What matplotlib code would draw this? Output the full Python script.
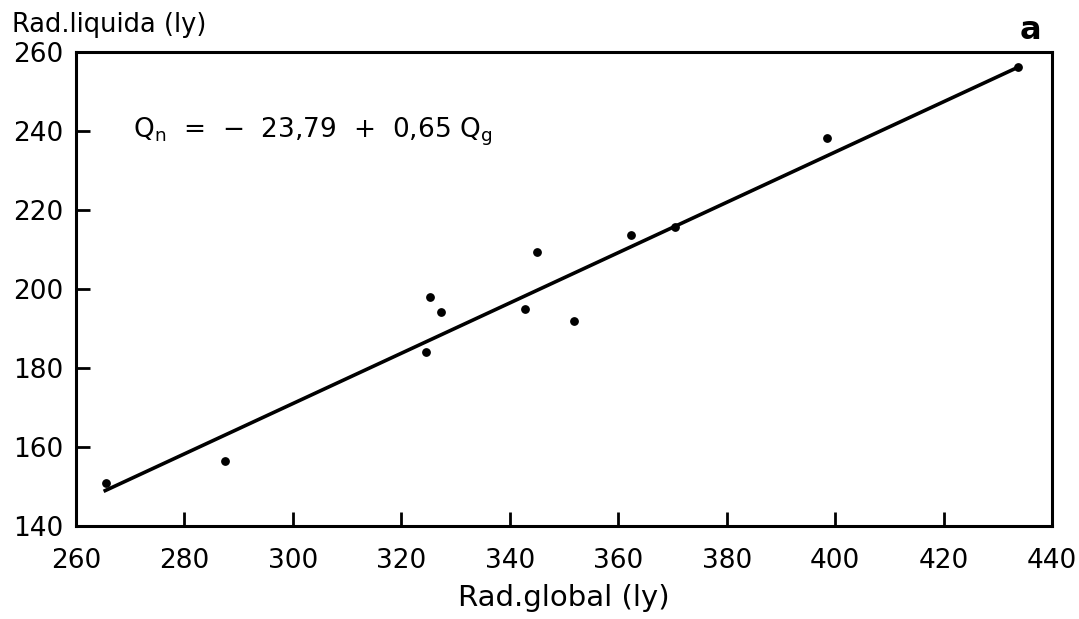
import matplotlib
matplotlib.use('Agg')
import matplotlib.pyplot as plt

plt.rcParams['font.family'] = ['DejaVu Sans']
plt.rcParams['mathtext.default'] = 'regular'

# observed points: global radiation vs net radiation (ly)
rad_global = [265.5, 287.5, 324.6, 325.2, 327.4, 342.8, 345.0, 351.8, 362.3, 370.4, 398.5, 433.7]
rad_liquida = [151.0, 156.5, 184.0, 197.9, 194.3, 195.0, 209.4, 191.8, 213.7, 215.7, 238.3, 256.3]

# regression line as drawn (Qn = -23.79 + 0.65 Qg)
fit_x = [265.4, 433.5]
fit_y = [149.0, 256.0]

x_ticks = [260, 280, 300, 320, 340, 360, 380, 400, 420, 440]
y_ticks = [140, 160, 180, 200, 220, 240, 260]

fig = plt.figure(figsize=(10.79, 6.19), dpi=100)
ax = fig.add_axes([0.0704, 0.150, 0.9046, 0.766])

ax.scatter(rad_global, rad_liquida, s=28, color='black', zorder=3)
ax.plot(fit_x, fit_y, color='black', lw=2.6)

ax.set_xlim(260, 440)
ax.set_ylim(140, 260)
ax.set_xticks(x_ticks)
ax.set_yticks(y_ticks)
ax.tick_params(direction='in', length=10, width=2, labelsize=19)
ax.tick_params(axis='x', pad=16)
ax.tick_params(axis='y', pad=9)
for s in ax.spines.values():
    s.set_linewidth(2.2)

ax.set_xlabel('Rad.global (ly)', fontsize=21, labelpad=7)
fig.text(0.011, 0.96, 'Rad.liquida (ly)', fontsize=18.5, ha='left', va='center')
fig.text(0.955, 0.95, 'a', fontsize=23, fontweight='bold', ha='center', va='center')

ax.text(0.058, 0.831, r'Q$_n$  =  −  23,79  +  0,65 Q$_g$', transform=ax.transAxes,
        fontsize=19, ha='left', va='center')

fig.savefig('out.png', dpi=100)
